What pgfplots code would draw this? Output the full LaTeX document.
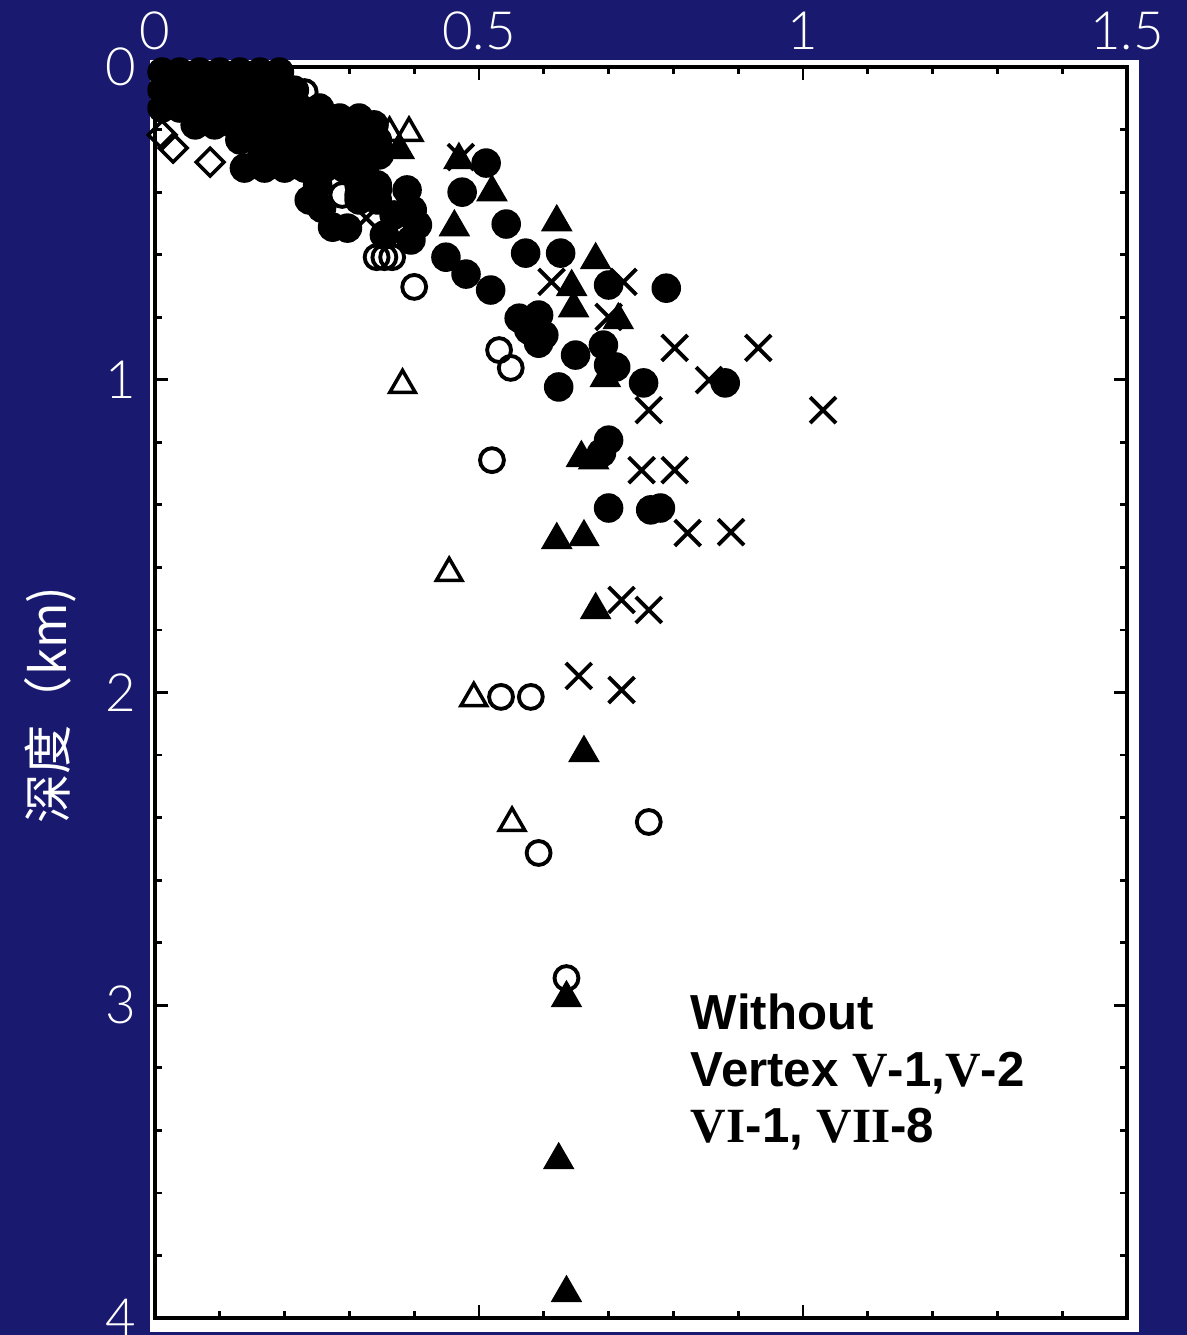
\documentclass[border=0pt]{standalone}
\usepackage{fontspec}
\setmainfont{Lato Light}
\newfontfamily\cjk{Noto Sans CJK SC}
\newfontfamily\arialb{Liberation Sans}
\newfontfamily\timesb{Liberation Serif}
\usepackage{pgfplots}
\pgfplotsset{compat=1.18}
\definecolor{navybg}{RGB}{25,25,112}
\begin{document}
\begin{tikzpicture}
\fill[navybg] (0,0) rectangle (11.87,13.35);
\fill[white] (1.50,0.03) rectangle (11.39,12.75);
\path[use as bounding box] (0,0) rectangle (11.87,13.35);
\begin{axis}[
  at={(1.55cm,0.17cm)}, anchor=south west,
  scale only axis, width=9.72cm, height=12.51cm,
  xmin=0, xmax=1.5, ymin=0, ymax=4, y dir=reverse,
  axis line style={line width=1.3pt, black},
  xtick={0,0.5,1,1.5}, ytick={0,1,2,3,4},
  minor x tick num=4, minor y tick num=4,
  tick align=inside, xtick pos=both, ytick pos=both,
  xticklabel pos=upper, yticklabel pos=left,
  major tick length=0.13cm, minor tick length=0.07cm,
  every tick/.style={black, line width=0.8pt},
  ticklabel style={white, font=\fontsize{15}{17}\selectfont},
  xticklabel style={yshift=0.05cm},
  yticklabel style={xshift=-0.07cm},
  /pgf/number format/assume math mode=true,
  ylabel={\cjk 深度（km)},
  ylabel style={white, font=\fontsize{14}{16}\selectfont, at={(axis description cs:-0.108,0.49)}, anchor=center},
  axis background/.style={fill=white},
  fc/.style={only marks, mark=*, mark size=4pt, mark options={fill=black, draw=black}},
  ft/.style={only marks, mark=triangle*, mark size=4.8pt, mark options={fill=black, draw=black}},
  oc/.style={only marks, mark=o, mark size=3.4pt, mark options={fill=white, draw=black, line width=1.1pt}},
  ot/.style={only marks, mark=triangle, mark size=4.2pt, mark options={fill=white, draw=black, line width=1pt}},
  xx/.style={only marks, mark=x, mark size=5.2pt, mark options={draw=black, line width=1.1pt}},
  od/.style={only marks, mark=square, mark size=2.8pt, mark options={rotate=45, fill=white, draw=black, line width=1pt}},
]
% dense cluster (filled circles)
\addplot[fc] coordinates {
(0.011,0.016)(0.038,0.016)(0.069,0.016)(0.100,0.016)(0.131,0.016)(0.162,0.016)(0.192,0.016)
(0.011,0.074)(0.038,0.074)(0.069,0.074)(0.100,0.074)(0.131,0.074)(0.162,0.074)(0.192,0.074)(0.215,0.074)
(0.011,0.131)(0.038,0.131)(0.069,0.131)(0.100,0.131)(0.131,0.131)(0.162,0.131)(0.192,0.131)(0.223,0.131)(0.254,0.131)
(0.285,0.163)(0.315,0.163)
(0.062,0.185)(0.092,0.185)(0.123,0.185)(0.154,0.185)(0.185,0.185)(0.215,0.185)(0.246,0.185)(0.277,0.185)(0.308,0.185)(0.338,0.185)
(0.131,0.233)(0.162,0.233)(0.192,0.233)(0.223,0.233)(0.254,0.233)(0.285,0.233)(0.315,0.233)(0.343,0.233)
(0.165,0.281)(0.195,0.281)(0.226,0.281)(0.257,0.281)(0.288,0.281)(0.318,0.281)(0.346,0.281)
(0.138,0.323)(0.169,0.323)(0.200,0.323)(0.231,0.323)(0.262,0.323)(0.292,0.323)(0.323,0.323)
(0.251,0.377)(0.315,0.377)(0.343,0.377)
(0.238,0.425)(0.257,0.451)(0.315,0.425)(0.343,0.425)(0.389,0.393)
(0.343,0.393)(0.397,0.457)(0.405,0.505)(0.395,0.553)(0.369,0.473)(0.354,0.537)(0.315,0.409)
(0.274,0.512)(0.297,0.515)
};
% filled circles (scattered)
\addplot[fc] coordinates {
(0.511,0.307)(0.474,0.400)(0.542,0.502)(0.572,0.595)(0.626,0.595)(0.449,0.608)
(0.480,0.662)(0.518,0.713)(0.700,0.697)(0.789,0.707)(0.562,0.803)(0.592,0.793)
(0.600,0.857)(0.577,0.841)(0.592,0.883)(0.649,0.921)(0.623,1.023)(0.692,0.889)
(0.700,0.953)(0.711,0.959)(0.754,1.010)(0.880,1.010)(0.700,1.193)(0.689,1.234)
(0.700,1.410)(0.765,1.416)(0.780,1.410)
};
% filled triangles
\addplot[ft] coordinates {
(0.177,0.074)(0.300,0.233)(0.346,0.233)(0.377,0.265)(0.240,0.330)
(0.469,0.297)(0.520,0.400)(0.462,0.512)(0.620,0.496)(0.680,0.617)(0.643,0.703)
(0.646,0.771)(0.715,0.809)(0.695,0.994)(0.658,1.250)(0.677,1.257)(0.620,1.512)
(0.662,1.503)(0.680,1.736)(0.662,2.193)(0.635,2.977)(0.623,3.495)(0.635,3.920)
};
% crosses
\addplot[xx] coordinates {
(0.472,0.288)(0.612,0.687)(0.723,0.687)(0.700,0.799)(0.802,0.898)(0.931,0.898)
(0.855,1.001)(0.762,1.097)(1.031,1.097)(0.751,1.289)(0.802,1.289)(0.822,1.490)
(0.889,1.487)(0.720,1.704)(0.762,1.736)(0.654,1.947)(0.720,1.992)(0.326,0.483)
};
% open circles
\addplot[oc] coordinates {
(0.231,0.080)(0.289,0.409)(0.342,0.608)(0.354,0.608)(0.366,0.608)(0.400,0.703)
(0.531,0.905)(0.549,0.962)(0.520,1.257)(0.534,2.014)(0.580,2.014)(0.762,2.414)
(0.592,2.513)(0.635,2.913)
};
% open triangles
\addplot[ot] coordinates {
(0.362,0.211)(0.392,0.211)(0.382,1.017)(0.454,1.618)(0.492,2.018)(0.551,2.417)
};
% open diamonds
\addplot[od] coordinates {
(0.011,0.217)(0.028,0.259)(0.085,0.304)
};
\node[anchor=north west, align=left, font=\arialb\bfseries\fontsize{14}{16.2}\selectfont, inner sep=0pt]
  at (axis cs:0.826,2.96) {Without\\Vertex {\timesb\bfseries V}-1,{\timesb\bfseries V}-2\\{\timesb\bfseries VI}-1, {\timesb\bfseries VII}-8};
\end{axis}
\end{tikzpicture}
\end{document}
